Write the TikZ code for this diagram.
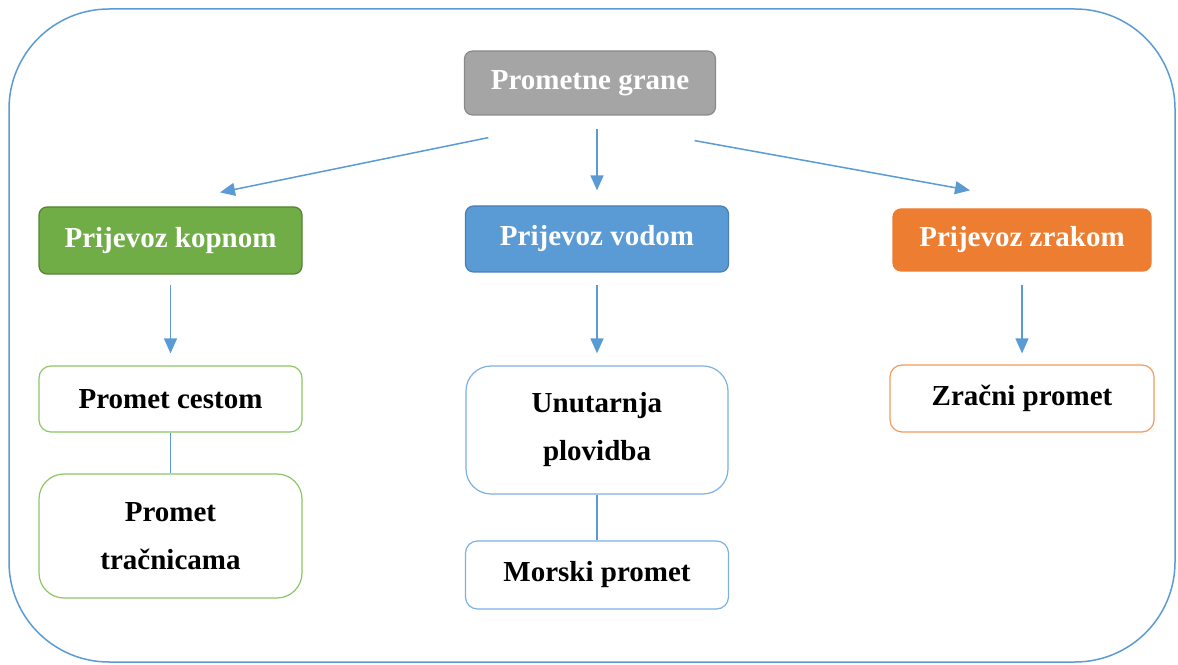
\documentclass[tikz,border=0pt]{standalone}
\usepackage{fontspec}
\setmainfont{Liberation Serif}
\usetikzlibrary{arrows.meta}
\definecolor{veza}{HTML}{5B9BD5}
\definecolor{siva}{HTML}{A5A5A5}
\definecolor{sivarub}{HTML}{8A8A8A}
\definecolor{zelena}{HTML}{70AD47}
\definecolor{zelenarub}{HTML}{548235}
\definecolor{svzelena}{HTML}{8CC665}
\definecolor{plava}{HTML}{5B9BD5}
\definecolor{plavarub}{HTML}{4A7FB5}
\definecolor{svplava}{HTML}{7DB1E2}
\definecolor{narancasta}{HTML}{ED7D31}
\definecolor{svnarancasta}{HTML}{F29A5C}

\begin{document}
\begin{tikzpicture}[x=1pt,y=1pt,
	kutija/.style={rounded corners=8pt, line width=1.2pt, inner sep=0pt, align=center, minimum width=263pt, font=\fontsize{29}{48}\selectfont\bfseries},
	grana/.style={kutija, text=white},
	vrsta/.style={kutija, fill=white, rounded corners=12pt},
	strelica/.style={veza, line width=1.5pt, -{Triangle[length=15pt,width=13pt]}},
	linija/.style={veza, line width=1.5pt}]
		\useasboundingbox (0,0) rectangle (1178,664);
		\draw[veza, line width=1.5pt, rounded corners=100pt] (9,2) rectangle (1175,655); % okvir
		\node[grana, fill=siva, draw=sivarub, minimum width=251pt, minimum height=64pt] (grane) at (590,581) {Prometne grane}; % glavni cvor
		\node[grana, fill=zelena, draw=zelenarub, minimum height=67pt] (kopnom) at (170.5,423.5) {Prijevoz kopnom}; % kopno
		\node[grana, fill=plava, draw=plavarub, minimum height=66pt] (vodom) at (597,425) {Prijevoz vodom}; % voda
		\node[grana, fill=narancasta, draw=narancasta, minimum width=258pt, minimum height=62pt] (zrakom) at (1022,424) {Prijevoz zrakom}; % zrak
		\node[vrsta, draw=svzelena, minimum height=66pt] (cestom) at (170.5,265) {Promet cestom};
		\node[vrsta, draw=svzelena, minimum height=124pt, rounded corners=25pt] (tracnice) at (170.5,128) {Promet\\tračnicama};
		\node[vrsta, draw=svplava, minimum width=262pt, minimum height=128pt, rounded corners=25pt] (unutarnja) at (597,234) {Unutarnja\\plovidba};
		\node[vrsta, draw=svplava, minimum height=68pt] (morski) at (597,89) {Morski promet};
		\node[vrsta, draw=svnarancasta, minimum width=264pt, minimum height=67pt] (zracni) at (1022,265.5) {Zračni promet};
		\draw[strelica] ([shift={(24.5,-22)}]grane.south west) -- ([shift={(49.5,14)}]kopnom.north); % strelice od glavnog cvora
		\draw[strelica] ([shift={(7,-13)}]grane.south) -- ([yshift=15pt]vodom.north);
		\draw[strelica] ([shift={(-21.5,-25)}]grane.south east) -- ([shift={(-52,18)}]zrakom.north);
		\draw[strelica] ([yshift=-10pt]kopnom.south) -- ([yshift=12pt]cestom.north); % strelice prema vrstama
		\draw[strelica] ([yshift=-12pt]vodom.south) -- ([yshift=12pt]unutarnja.north);
		\draw[strelica] ([yshift=-13pt]zrakom.south) -- ([yshift=11pt]zracni.north);
		\draw[linija] (cestom) -- (tracnice); % spojnice
		\draw[linija] (unutarnja) -- (morski);
\end{tikzpicture}
\end{document}
